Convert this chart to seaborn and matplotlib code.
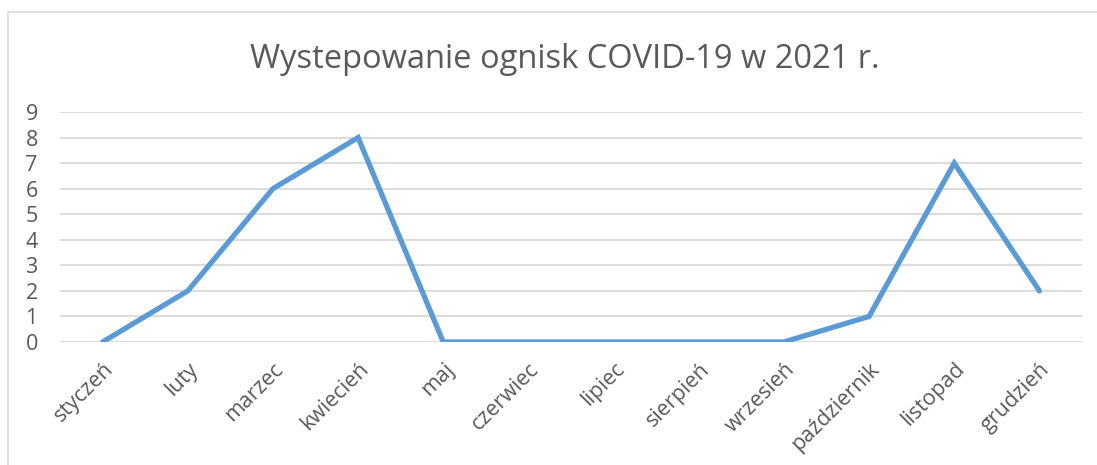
import pandas as pd
import matplotlib.pyplot as plt
import seaborn as sns
from matplotlib.patches import Rectangle

# data
months = ['styczeń', 'luty', 'marzec', 'kwiecień', 'maj', 'czerwiec', 'lipiec',
          'sierpień', 'wrzesień', 'październik', 'listopad', 'grudzień']
outbreaks = [0, 2, 6, 8, 0, 0, 0, 0, 0, 1, 7, 2]
title = 'Wystepowanie ognisk COVID-19 w 2021 r.'

df = pd.DataFrame({'miesiac': months, 'ogniska': outbreaks})

sns.set_style('white')
plt.rcParams['font.family'] = ['Open Sans', 'DejaVu Sans']
text_col = '#595959'
grid_col = '#D9D9D9'

W, H = 1097, 465
fig = plt.figure(figsize=(W / 100, H / 100), dpi=100)
ax = fig.add_axes([60 / W, 1 - 342 / H, (1082 - 60) / W, (342 - 112) / H])

sns.lineplot(data=df, x='miesiac', y='ogniska', sort=False, ax=ax,
             color='#5B9BD5', linewidth=3.8, solid_joinstyle='miter', solid_capstyle='round')

ax.set_xlim(-0.5, len(months) - 0.5)
ax.set_ylim(0, 9)
ax.set_yticks(range(0, 10))
ax.yaxis.grid(True, color=grid_col, linewidth=1.3)
ax.set_axisbelow(True)
for s in ax.spines.values():
    s.set_visible(False)
ax.set_xlabel('')
ax.set_ylabel('')
ax.tick_params(axis='both', length=0, colors=text_col, labelsize=15.5)
ax.tick_params(axis='y', pad=16)
ax.tick_params(axis='x', pad=12)
ax.set_xticks(range(len(months)))
ax.set_xticklabels(months, rotation=45, ha='right', rotation_mode='anchor')

fig.text(565 / W, 1 - 60 / H, title, ha='center', va='center', fontsize=23.5, color=text_col)

# chart frame like in Excel
fig.patches.append(Rectangle((8 / W, -0.1), 1.2, 1 - 12 / H + 0.1, transform=fig.transFigure,
                             fill=False, edgecolor=grid_col, linewidth=1.2))

fig.savefig('out.png', dpi=100)
